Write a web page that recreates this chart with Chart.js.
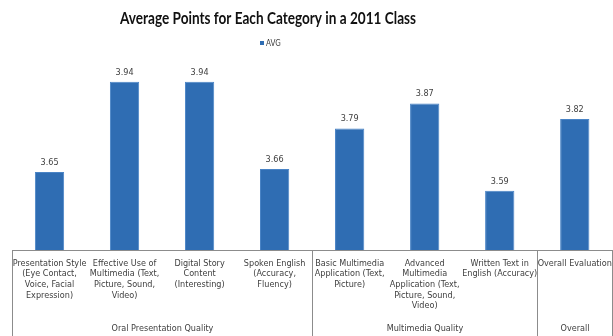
<!DOCTYPE html>
<html>
<head>
<meta charset="utf-8">
<script src="https://cdn.jsdelivr.net/npm/chart.js@4/dist/chart.umd.min.js"></script>
<style>
html,body{margin:0;padding:0;background:#fff;overflow:hidden;}
canvas{display:block;}
</style>
</head>
<body>
<canvas id="c" width="620" height="336" style="width:620px;height:336px"></canvas>
<script>
const categories = [
  ["Presentation Style","(Eye Contact,","Voice, Facial","Expression)"],
  ["Effective Use of","Multimedia (Text,","Picture, Sound,","Video)"],
  ["Digital Story","Content","(Interesting)"],
  ["Spoken English","(Accuracy,","Fluency)"],
  ["Basic Multimedia","Application (Text,","Picture)"],
  ["Advanced","Multimedia","Application (Text,","Picture, Sound,","Video)"],
  ["Written Text in","English (Accuracy)"],
  ["Overall Evaluation"]
];
const avgValues = [3.65, 3.94, 3.94, 3.66, 3.79, 3.87, 3.59, 3.82];
const groupNames = ["Oral Presentation Quality", "Multimedia Quality", "Overall"];
const groupSizes = [4, 3, 1];
const titleText = 'Average Points for Each Category in a 2011 Class';
const seriesName = 'AVG';

const FONT = "'Liberation Sans Narrow','DejaVu Sans Condensed',Lato,sans-serif";
const TXT = '#404040';
const BAR = '#2F6DB3';

const decorPlugin = {
  id: 'decor',
  afterDraw(chart) {
    const ctx = chart.ctx;
    const xs = chart.scales.x;
    const bottom = chart.chartArea.bottom;
    const H = chart.height;
    ctx.save();
    // title (compressed horizontally like the reference)
    ctx.fillStyle = '#111';
    ctx.font = "bold 17px Lato, sans-serif";
    ctx.textAlign = 'center';
    ctx.textBaseline = 'alphabetic';
    const tw = ctx.measureText(titleText).width;
    ctx.save();
    ctx.translate(268, 24);
    ctx.scale(296 / tw, 1);
    ctx.fillText(titleText, 0, 0);
    ctx.restore();
    // legend
    ctx.fillStyle = BAR;
    ctx.fillRect(260, 41, 4, 4);
    ctx.fillStyle = TXT;
    ctx.font = "8px " + FONT;
    ctx.textAlign = 'left';
    ctx.textBaseline = 'middle';
    ctx.fillText(seriesName, 266, 44);

    // group separators and labels
    ctx.strokeStyle = '#8c8c8c';
    ctx.lineWidth = 1;
    ctx.font = "9px " + FONT;
    ctx.textAlign = 'center';
    ctx.textBaseline = 'middle';
    let start = 0;
    const half = (xs.getPixelForValue(1) - xs.getPixelForValue(0)) / 2;
    for (let g = 0; g < groupSizes.length; g++) {
      const end = start + groupSizes[g] - 1;
      const x0 = Math.round(xs.getPixelForValue(start) - half) + 0.5;
      const x1 = Math.round(xs.getPixelForValue(end) + half) + 0.5;
      ctx.beginPath();
      ctx.moveTo(x0, bottom); ctx.lineTo(x0, H);
      ctx.moveTo(x1, bottom); ctx.lineTo(x1, H);
      ctx.stroke();
      ctx.fillText(groupNames[g], (x0 + x1) / 2, 329);
      start = end + 1;
    }
    // value labels
    const meta = chart.getDatasetMeta(0);
    ctx.textBaseline = 'bottom';
    meta.data.forEach((bar, i) => {
      ctx.fillText(avgValues[i].toFixed(2), bar.x, bar.y - 5);
    });
    ctx.restore();
  }
};

new Chart(document.getElementById('c'), {
  type: 'bar',
  data: {
    labels: categories,
    datasets: [{
      label: seriesName,
      data: avgValues,
      backgroundColor: BAR,
      borderColor: '#4A84C6',
      borderWidth: 1,
      barPercentage: 0.39,
      categoryPercentage: 1.0
    }]
  },
  options: {
    responsive: false,
    animation: false,
    layout: { padding: { left: 12, right: 2, top: 63, bottom: 0 } },
    plugins: {
      title: { display: false },
      legend: { display: false },
      tooltip: { enabled: false }
    },
    scales: {
      y: { display: false, min: 3.4, max: 4.0 },
      x: {
        offset: true,
        grid: { display: false, drawTicks: false },
        border: { display: true, color: '#8c8c8c' },
        ticks: {
          autoSkip: false,
          maxRotation: 0,
          minRotation: 0,
          padding: 8,
          color: TXT,
          font: { family: FONT, size: 9, lineHeight: 1.18 }
        },
        afterFit(scale) { scale.height = 86; }
      }
    }
  },
  plugins: [decorPlugin]
});
</script>
</body>
</html>
